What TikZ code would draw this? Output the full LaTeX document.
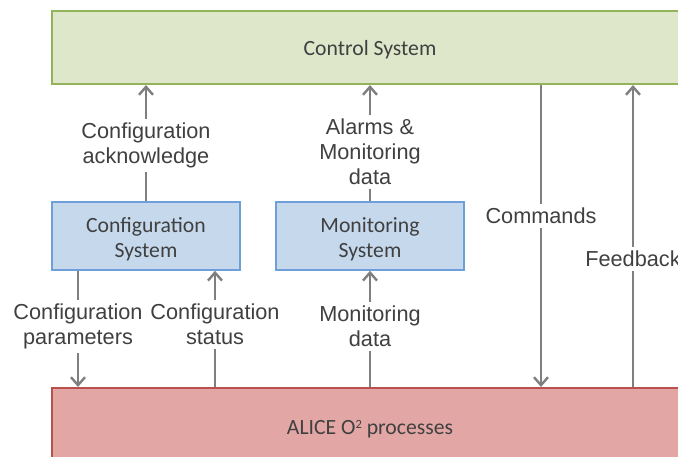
\documentclass[tikz,border=0pt]{standalone}
\usepackage{fontspec}
\setmainfont{Carlito}
\newfontfamily\labfont{Liberation Sans}
\usetikzlibrary{arrows.meta}

\definecolor{ctrlfill}{HTML}{DEE7CA}
\definecolor{ctrlline}{HTML}{93B35A}
\definecolor{subfill}{HTML}{C5D8EC}
\definecolor{subline}{HTML}{6E9FD8}
\definecolor{alicefill}{HTML}{E2A6A5}
\definecolor{aliceline}{HTML}{B9504C}
\definecolor{flow}{HTML}{7F7F7F}
\definecolor{ink}{HTML}{404040}

\newcommand{\smallsup}[1]{\raisebox{0.62ex}{\fontsize{12.5}{12.5}\selectfont #1}}

\tikzset{
  bigbox/.style={draw, line width=2pt, minimum width=636pt, inner sep=0pt,
    text=ink, font=\fontsize{21.7}{25}\selectfont},
  subbox/.style={draw=subline, fill=subfill, line width=1.6pt,
    minimum width=188pt, minimum height=68pt, inner sep=0pt,
    text=ink, align=center, font=\fontsize{21.7}{25}\selectfont},
  flowarrow/.style={draw=flow, line width=2pt,
    -{Straight Barb[length=8pt,width=14pt,line width=2.4pt]}},
  flowlabel/.style={fill=white, inner xsep=1pt, inner ysep=4pt,
    text=ink, align=center, font=\labfont\fontsize{21.7}{25}\selectfont}
}

\begin{document}
\begin{tikzpicture}[x=1pt,y=-1pt]
  \useasboundingbox (0,0) rectangle (678,456);
  \clip (0,0) rectangle (678,456);

  % main blocks
  \node[bigbox, draw=ctrlline, fill=ctrlfill, minimum height=73pt]
    (ctrl) at (370,47.5) {};
  \node[text=ink, font=\fontsize{21.7}{25}\selectfont] (ctrltext) at (370,50) {Control System};
  \node[bigbox, draw=aliceline, fill=alicefill, minimum height=84pt]
    (alice) at (370,430) {};
  \node[text=ink, font=\fontsize{21.7}{25}\selectfont] (alicetext) at (370,429)
    {ALICE O\smallsup{2} processes};

  % sub-systems
  \node[subbox] (conf) at (146,236) {};
  \node[subbox] (mon)  at (370,236) {};
  \node[text=ink, align=center, font=\fontsize{21.7}{25}\selectfont]
    (conftext) at (146,239) {Configuration\\System};
  \node[text=ink, align=center, font=\fontsize{21.7}{25}\selectfont]
    (montext) at (370,239) {Monitoring\\System};

  % flows between the blocks
  \draw[flowarrow] (conf.north) -- (conf.north |- ctrl.south);
  \draw[flowarrow] (mon.north) -- (mon.north |- ctrl.south);
  \coordinate (cmdtop) at (541,0);
  \coordinate (fbtop) at (633,0);
  \draw[flowarrow] (cmdtop |- ctrl.south) -- (cmdtop |- alice.north);
  \draw[flowarrow] (fbtop |- alice.north) -- (fbtop |- ctrl.south);
  \coordinate (parx) at (78,0);
  \coordinate (stax) at (215,0);
  \draw[flowarrow] (parx |- conf.south) -- (parx |- alice.north);
  \draw[flowarrow] (stax |- alice.north) -- (stax |- conf.south);
  \draw[flowarrow] (mon.south |- alice.north) -- (mon.south);

  % flow labels
  \node[flowlabel] (ack)  at (146,145.5) {Configuration\\acknowledge};
  \node[flowlabel] (alarm) at (370,152) {Alarms \&\\Monitoring\\data};
  \node[flowlabel] (cmd)  at (541,216) {Commands};
  \node[flowlabel] (fb)   at (633,259) {Feedback};
  \node[flowlabel] (par)  at (78,326.5) {Configuration\\parameters};
  \node[flowlabel] (sta)  at (215,324.5) {Configuration\\status};
  \node[flowlabel] (mdat) at (370,326.5) {Monitoring\\data};
\end{tikzpicture}
\end{document}
